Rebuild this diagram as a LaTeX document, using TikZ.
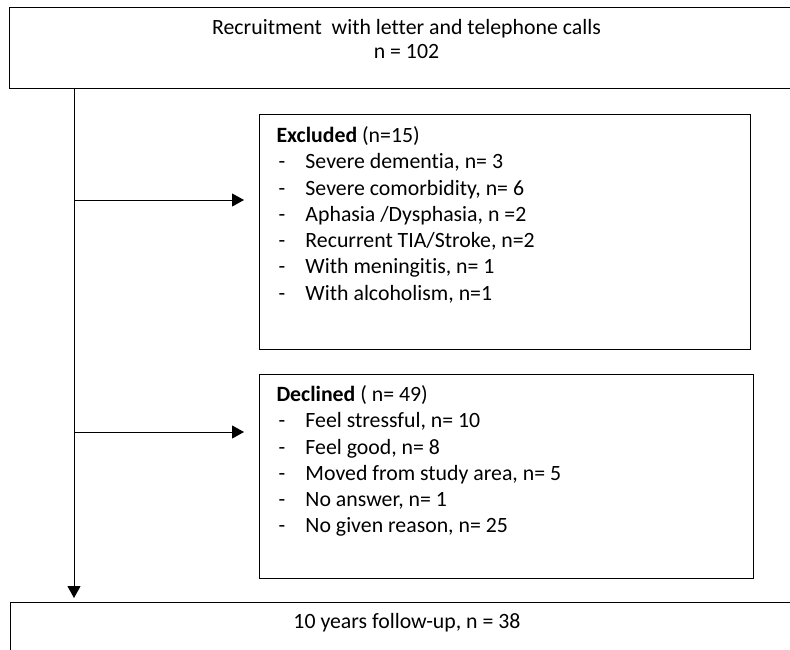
\documentclass[tikz,border=0pt]{standalone}
\usepackage{fontspec}
\setmainfont[Ligatures=NoCommon]{Carlito}
\usetikzlibrary{arrows.meta,positioning}

\newcommand{\dashitem}[1]{\makebox[29pt][l]{\hspace{2pt}-}#1\\}

\begin{document}
\begin{tikzpicture}[x=1pt, y=-1pt,
	box/.style={draw, line width=1pt, inner sep=0pt},
	flow/.style={line width=1pt, -{Triangle[length=12pt, width=13pt]}},
	every node/.style={font=\fontsize{21.8}{26.3}\selectfont}]
	\useasboundingbox (0,0) rectangle (790,649);
	% boxes
	\node[box, anchor=north west] (recruit) at (9,7)
		{\parbox[c][81pt][t]{794pt}{\vspace{12pt}\centering\baselineskip=24pt
			Recruitment\ \ with letter and telephone calls\\ n = 102}};
	\node[box, anchor=north west] (excl) at (259,114)
		{\parbox[c][235pt][t]{491pt}{\vspace{12pt}\raggedright\leftskip=17pt
			\textbf{Excluded} (n=15)\\
			\dashitem{Severe dementia, n= 3}
			\dashitem{Severe comorbidity, n= 6}
			\dashitem{Aphasia /Dysphasia, n =2}
			\dashitem{Recurrent TIA/Stroke, n=2}
			\dashitem{With meningitis, n= 1}
			\makebox[29pt][l]{\hspace{2pt}-}With alcoholism, n=1}};
	\node[box, anchor=north west] (decl) at (259,374)
		{\parbox[c][204pt][t]{494pt}{\vspace{11pt}\raggedright\leftskip=17pt
			\textbf{Declined} ( n= 49)\\
			\dashitem{Feel stressful, n= 10}
			\dashitem{Feel good, n= 8}
			\dashitem{Moved from study area, n= 5}
			\dashitem{No answer, n= 1}
			\makebox[29pt][l]{\hspace{2pt}-}No given reason, n= 25}};
	\node[box, anchor=north west] (follow) at (10,602)
		{\parbox[c][70pt][t]{793pt}{\vspace{11pt}\centering 10 years follow-up, n = 38}};
	% connectors
	\coordinate (trunk) at (74,0);
	\coordinate (toexcl) at (74,200);
	\coordinate (todecl) at (74,432);
	\draw[flow, shorten >=4pt] (recruit.south -| trunk) -- (follow.north -| trunk);
	\draw[flow, shorten >=15pt] (toexcl) -- (toexcl -| excl.west);
	\draw[flow, shorten >=15pt] (todecl) -- (todecl -| decl.west);
\end{tikzpicture}
\end{document}
